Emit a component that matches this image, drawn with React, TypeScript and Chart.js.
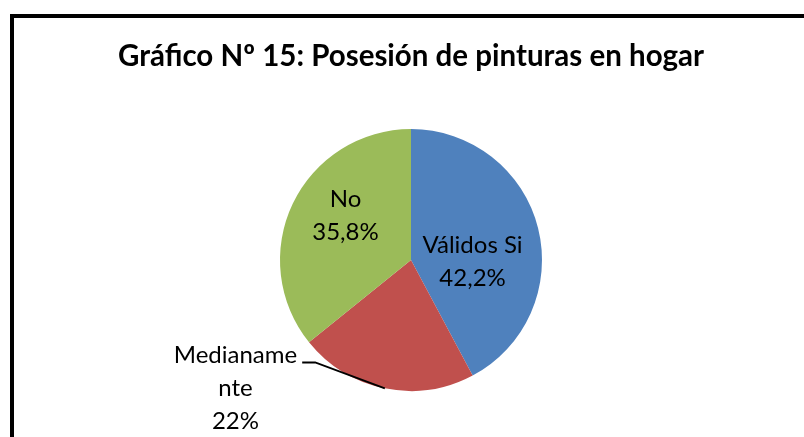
import React, { useEffect, useRef } from "react";
import { Chart, registerables } from "chart.js";

Chart.register(...registerables);

const titleText = "Gráfico Nº 15: Posesión de pinturas en hogar";
const categories = ["Válidos Si", "Medianamente", "No"];
const values = [42.2, 22, 35.8];
const labelLines = [["Válidos Si", "42,2%"], ["Medianame", "nte", "22%"], ["No", "35,8%"]];
const colors = ["#4F81BD", "#C0504D", "#9BBB59"];
// label offsets relative to pie center, as fractions of radius
const labelOffsets = [[0.47, 0.015], [-1.34, 0.98], [-0.5, -0.34]];
const outside = [false, true, false];

const FONT = "Lato, 'Open Sans', sans-serif";

const decoPlugin = {
  id: "deco",
  beforeDraw(chart: any) {
    const ctx = chart.ctx;
    ctx.save();
    ctx.fillStyle = "#fff";
    ctx.fillRect(0, 0, chart.width, chart.height);
    ctx.strokeStyle = "#000";
    ctx.lineWidth = 4;
    ctx.beginPath();
    ctx.moveTo(12, chart.height + 5);
    ctx.lineTo(12, 16);
    ctx.lineTo(chart.width + 5, 16);
    ctx.stroke();
    ctx.fillStyle = "#000";
    ctx.font = `bold 29.5px ${FONT}`;
    ctx.textAlign = "center";
    ctx.textBaseline = "middle";
    ctx.fillText(titleText, 411, 56);
    ctx.restore();
  },
  afterDatasetsDraw(chart: any) {
    const ctx = chart.ctx;
    const meta = chart.getDatasetMeta(0);
    ctx.save();
    ctx.font = `24px ${FONT}`;
    ctx.fillStyle = "#000";
    ctx.textAlign = "center";
    ctx.textBaseline = "middle";
    meta.data.forEach((arc: any, i: number) => {
      const { x, y, outerRadius, startAngle, endAngle } = arc.getProps(["x", "y", "outerRadius", "startAngle", "endAngle"], true);
      const lx = x + labelOffsets[i][0] * outerRadius;
      const ly = y + labelOffsets[i][1] * outerRadius;
      const lines = labelLines[i];
      const lh = 33;
      const y0 = ly - ((lines.length - 1) * lh) / 2;
      lines.forEach((t, k) => ctx.fillText(t, lx, y0 + k * lh));
      if (outside[i]) {
        const mid = (startAngle + endAngle) / 2;
        const ex = x + Math.cos(mid) * outerRadius;
        const ey = y + Math.sin(mid) * outerRadius;
        const w = ctx.measureText(lines[0]).width;
        const sx = lx + w / 2 + 5;
        const sy = y0 + 7;
        ctx.strokeStyle = "#000";
        ctx.lineWidth = 2;
        ctx.beginPath();
        ctx.moveTo(sx, sy);
        ctx.lineTo(sx + 13, sy);
        ctx.lineTo(ex, ey);
        ctx.stroke();
      }
    });
    ctx.restore();
  },
};

export default function App() {
  const ref = useRef<HTMLCanvasElement>(null);
  useEffect(() => {
    const chart = new Chart(ref.current!, {
      type: "pie",
      data: {
        labels: categories,
        datasets: [{ data: values, backgroundColor: colors, borderWidth: 0 }],
      },
      options: {
        responsive: false,
        animation: false,
        layout: { padding: { top: 129, bottom: 46, left: 18, right: 0 } },
        plugins: { legend: { display: false }, tooltip: { enabled: false }, title: { display: false } },
      },
      plugins: [decoPlugin],
    });
    return () => chart.destroy();
  }, []);
  return (
    <div style={{ position: "fixed", left: 0, top: 0, width: 804, height: 437 }}>
      <canvas ref={ref} width={804} height={437} style={{ width: 804, height: 437 }} />
    </div>
  );
}
